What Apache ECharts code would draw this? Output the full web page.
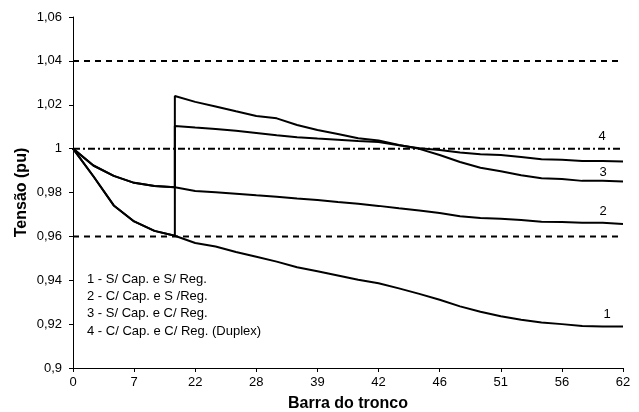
<!DOCTYPE html>
<html>
<head>
<meta charset="utf-8">
<script src="https://cdn.jsdelivr.net/npm/echarts@6/dist/echarts.min.js"></script>
<style>
html,body{margin:0;padding:0;background:#fff;}
#chart{width:639px;height:412px;}
</style>
</head>
<body>
<div id="chart"></div>
<script>
// Bar positions along the trunk (category index) and their tick labels (every 3rd)
const xTickLabels = ['0', '7', '22', '28', '39', '42', '46', '51', '56', '62'];
const regulatorIndex = 5;

// 1 - S/ Cap. e S/ Reg.
const s1 = [1.000, 0.9874, 0.9741, 0.9668, 0.9625, 0.9603, 0.9570, 0.9554, 0.9529, 0.9507,
            0.9485, 0.9459, 0.9441, 0.9422, 0.9402, 0.9386, 0.9363, 0.9338, 0.9311, 0.9281,
            0.9256, 0.9236, 0.9220, 0.9207, 0.9200, 0.9192, 0.9189, 0.9189];
// 2 - C/ Cap. e S /Reg.
const s2 = [1.000, 0.9923, 0.9876, 0.9844, 0.9830, 0.9824, 0.9807, 0.9801, 0.9794, 0.9787,
            0.9781, 0.9773, 0.9766, 0.9757, 0.9749, 0.9739, 0.9728, 0.9718, 0.9707, 0.9692,
            0.9684, 0.9680, 0.9675, 0.9667, 0.9665, 0.9662, 0.9662, 0.9656];
// 3 - S/ Cap. e C/ Reg. : values from the regulator on (before it, equals series 1)
const s3After = [1.0240, 1.0213, 1.0192, 1.0170, 1.0149, 1.0138, 1.0108, 1.0085, 1.0067, 1.0047,
                 1.0037, 1.0017, 0.9999, 0.9971, 0.9939, 0.9913, 0.9897, 0.9879, 0.9865, 0.9861,
                 0.9853, 0.9853, 0.9850];
// 4 - C/ Cap. e C/ Reg. (Duplex) : values from the regulator on (before it, equals series 2)
const s4After = [1.0103, 1.0096, 1.0090, 1.0081, 1.0071, 1.0061, 1.0052, 1.0046, 1.0041, 1.0035,
                 1.0030, 1.0015, 1.0002, 0.9994, 0.9982, 0.9974, 0.9971, 0.9962, 0.9952, 0.9949,
                 0.9944, 0.9944, 0.9941];

const limitLevels = [1.04, 0.96];
const nominalLevel = [1.00];
const legendLines = ['1 - S/ Cap. e S/ Reg.', '2 - C/ Cap. e S /Reg.', '3 - S/ Cap. e C/ Reg.', '4 - C/ Cap. e C/ Reg. (Duplex)'];
const seriesTags = ['1', '2', '3', '4'];

const lastIdx = s1.length - 1;
const toPts = arr => arr.map((v, i) => [i, v]);
const withReg = (before, after) => {
  const pts = [];
  for (let i = 0; i <= regulatorIndex; i++) pts.push([i, before[i]]);
  after.forEach((v, k) => pts.push([regulatorIndex + k, v]));
  return pts;
};

const font = '"Liberation Sans", Arial, sans-serif';
const lineStyle = { color: '#000', width: 2 };

const chart = echarts.init(document.getElementById('chart'), null, { renderer: 'canvas' });

const refSeries = (level, type) => ({
  type: 'line', data: [[0, level], [lastIdx, level]], symbol: 'none', silent: true,
  lineStyle: { color: '#000', width: 2, type: type }, z: 1, animation: false
});

const tagLabel = (pts, txt, dx, dy) => {
  const d = pts.slice();
  const last = d[d.length - 1];
  d[d.length - 1] = {
    value: last,
    label: { show: true, formatter: txt, position: [dx, dy], align: 'center', verticalAlign: 'middle',
             color: '#000', fontSize: 13, fontFamily: font }
  };
  return d;
};

const dataSeries = (data) => ({
  type: 'line', data: data, symbol: 'circle', symbolSize: 0, showSymbol: true,
  itemStyle: { color: '#000' }, lineStyle, z: 3
});

chart.setOption({
  animation: false,
  backgroundColor: '#fff',
  grid: { left: 73, right: 16, top: 17, bottom: 44, containLabel: false, outerBoundsMode: 'none' },
  xAxis: {
    type: 'value', min: 0, max: lastIdx, interval: 3,
    name: 'Barra do tronco', nameLocation: 'middle', nameGap: 28, nameMoveOverlap: false,
    nameTextStyle: { fontFamily: font, fontSize: 16, fontWeight: 'bold', color: '#000' },
    axisLine: { show: true, lineStyle: { color: '#000', width: 1 } },
    axisTick: { show: true, length: 4, lineStyle: { color: '#000' } },
    axisLabel: { formatter: v => xTickLabels[Math.round(v / 3)], fontFamily: font, fontSize: 13, color: '#000', margin: 8 },
    splitLine: { show: false }
  },
  yAxis: {
    type: 'value', min: 0.9, max: 1.06, interval: 0.02,
    name: 'Tensão (pu)', nameLocation: 'middle', nameGap: 43, nameMoveOverlap: false,
    nameTextStyle: { fontFamily: font, fontSize: 16, fontWeight: 'bold', color: '#000' },
    axisLine: { show: true, lineStyle: { color: '#000', width: 1 } },
    axisTick: { show: true, length: 4, lineStyle: { color: '#000' } },
    axisLabel: { formatter: v => String(+v.toFixed(2)).replace('.', ','), fontFamily: font, fontSize: 13, color: '#000', margin: 11 },
    splitLine: { show: false }
  },
  series: [
    refSeries(limitLevels[0], [6, 5]),
    refSeries(limitLevels[1], [6, 5]),
    refSeries(nominalLevel[0], [7, 3, 2, 3]),
    dataSeries(tagLabel(toPts(s1), seriesTags[0], -16, -12)),
    dataSeries(tagLabel(toPts(s2), seriesTags[1], -20, -13)),
    dataSeries(tagLabel(withReg(s1, s3After), seriesTags[2], -20, -9)),
    dataSeries(tagLabel(withReg(s2, s4After), seriesTags[3], -21, -25))
  ],
  graphic: legendLines.map((t, i) => ({
    type: 'text', left: 87, top: 273 + i * 17.2,
    style: { text: t, font: '13px ' + font, fill: '#000' }
  }))
});
</script>
</body>
</html>
